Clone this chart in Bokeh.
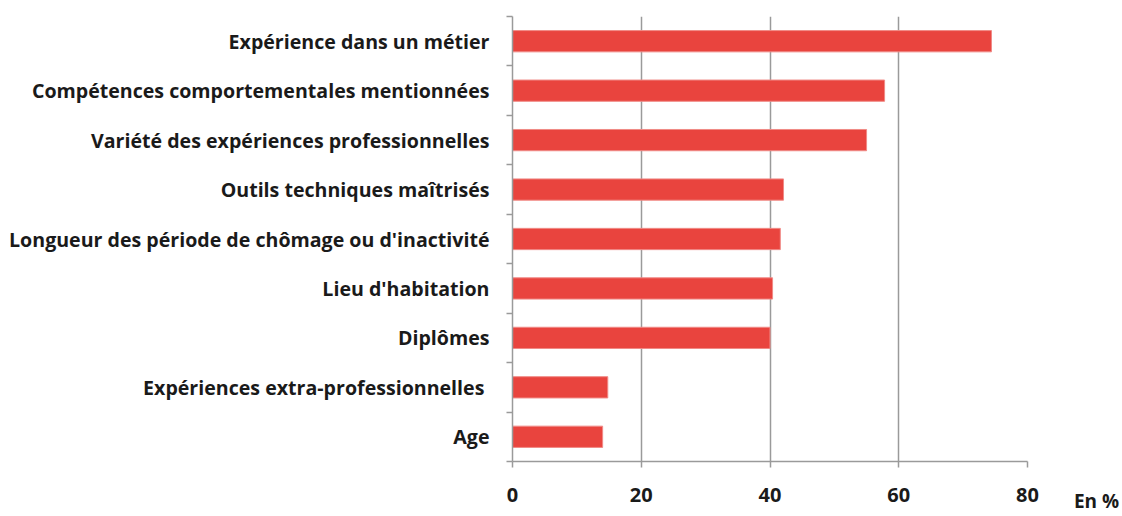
from bokeh.plotting import figure
from bokeh.models import FixedTicker, Range1d
from bokeh.layouts import row
from bokeh.embed import file_html
from bokeh.resources import INLINE

categories = [
    "Expérience dans un métier",
    "Compétences comportementales mentionnées",
    "Variété des expériences professionnelles",
    "Outils techniques maîtrisés",
    "Longueur des période de chômage ou d'inactivité",
    "Lieu d'habitation",
    "Diplômes",
    "Expériences  extra-professionnelles",
    "Age",
]
values = [74.4, 57.8, 55.0, 42.1, 41.6, 40.4, 40.0, 14.8, 14.0]
x_ticks = [0, 20, 40, 60, 80]
unit_label = "En %"

n = len(categories)
ys = [n - 1 - i for i in range(n)]
bar_color = "#E9443E"
grid_color = "#9a9a9a"
font = "Open Sans"
text_color = "#1a1a1a"
H = 516
TOP = 16
BOTTOM = 54
STANDOFF = 20

p = figure(width=1070, height=H, output_backend="svg", toolbar_location=None,
           x_range=Range1d(0, 80), y_range=Range1d(-0.5, n - 0.5),
           min_border_left=512, min_border_right=43, min_border_top=TOP, min_border_bottom=BOTTOM)
p.outline_line_color = None

p.hbar(y=ys, right=values, left=0, height=0.43, fill_color=bar_color, line_color="#F08A86", line_width=1)

# x axis
p.xaxis.ticker = FixedTicker(ticks=x_ticks)
p.xaxis.axis_line_color = grid_color
p.xaxis.axis_line_width = 1.5
p.xaxis.major_tick_line_color = grid_color
p.xaxis.major_tick_line_width = 1.5
p.xaxis.major_tick_out = 6
p.xaxis.major_tick_in = 0
p.xaxis.minor_tick_line_color = None
p.xaxis.major_label_standoff = STANDOFF
p.xaxis.major_label_text_font = font
p.xaxis.major_label_text_font_style = "bold"
p.xaxis.major_label_text_font_size = "20px"
p.xaxis.major_label_text_color = text_color

# y axis
p.yaxis.ticker = FixedTicker(ticks=list(range(n)), minor_ticks=[i - 0.5 for i in range(n + 1)])
p.yaxis.major_label_overrides = {y: c for y, c in zip(ys, categories)}
p.yaxis.axis_line_color = grid_color
p.yaxis.axis_line_width = 1.5
p.yaxis.major_tick_line_color = None
p.yaxis.major_tick_out = 0
p.yaxis.minor_tick_line_color = grid_color
p.yaxis.minor_tick_line_width = 1.5
p.yaxis.minor_tick_out = 6
p.yaxis.minor_tick_in = 0
p.yaxis.major_label_standoff = 17
p.yaxis.major_label_text_font = font
p.yaxis.major_label_text_font_style = "bold"
p.yaxis.major_label_text_font_size = "19.6px"
p.yaxis.major_label_text_color = text_color

p.xgrid.ticker = FixedTicker(ticks=x_ticks[1:])
p.xgrid.grid_line_color = grid_color
p.xgrid.grid_line_width = 1.5
p.ygrid.grid_line_color = None

# small companion figure carrying the unit label at the tick-label level
q = figure(width=52, height=H, output_backend="svg", toolbar_location=None,
           x_range=Range1d(0, 1), y_range=Range1d(0, 1),
           min_border_left=0, min_border_right=0, min_border_top=TOP, min_border_bottom=BOTTOM)
q.outline_line_color = None
q.yaxis.visible = False
q.grid.grid_line_color = None
q.xaxis.ticker = FixedTicker(ticks=[0.5])
q.xaxis.major_label_overrides = {0.5: unit_label}
q.xaxis.axis_line_color = None
q.xaxis.major_tick_line_color = None
q.xaxis.minor_tick_line_color = None
q.xaxis.major_tick_out = 6
q.xaxis.major_label_standoff = STANDOFF
q.xaxis.major_label_text_font = font
q.xaxis.major_label_text_font_style = "bold"
q.xaxis.major_label_text_font_size = "19px"
q.xaxis.major_label_text_color = text_color

layout = row(p, q, spacing=0)
open("out.html", "w").write(file_html(layout, INLINE))
